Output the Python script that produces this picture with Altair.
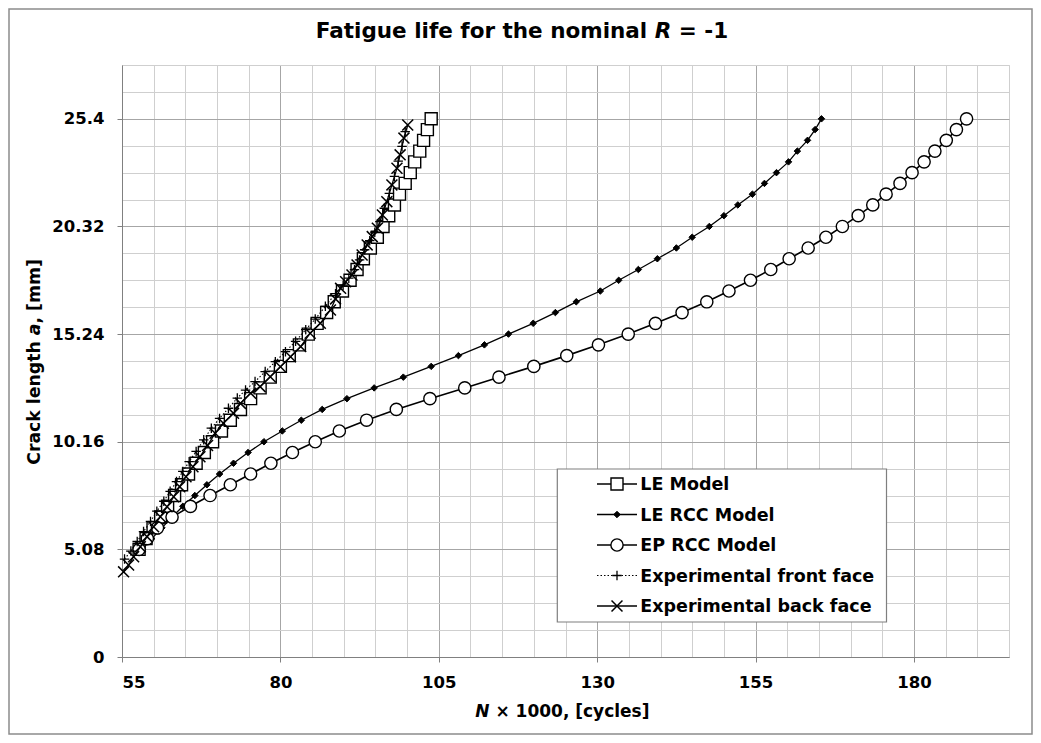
import altair as alt
import pandas as pd

series_names = ["LE Model", "LE RCC Model", "EP RCC Model",
                "Experimental front face", "Experimental back face"]

# crack length levels of the model curves [mm]
a_model = [5.08, 5.588, 6.096, 6.604, 7.112, 7.62, 8.128, 8.636, 9.144,
           9.652, 10.16, 10.668, 11.176, 11.684, 12.192, 12.7, 13.208, 13.716, 14.224,
           14.732, 15.24, 15.748, 16.256, 16.764, 17.272, 17.78, 18.288, 18.796, 19.304,
           19.812, 20.32, 20.828, 21.336, 21.844, 22.352, 22.86, 23.368, 23.876, 24.384,
           24.892, 25.4]

# N x 1000 [cycles] for each model
le_N = [57.7, 58.8, 59.9, 61.1, 62.2, 63.3, 64.4, 65.5, 66.7,
        68.0, 69.3, 70.7, 72.1, 73.7, 75.3, 76.8, 78.4, 80.0, 81.4,
        83.0, 84.4, 85.8, 87.3, 88.5, 89.8, 91.0, 92.1, 93.1, 94.2,
        95.3, 96.2, 97.1, 98.0, 98.8, 99.7, 100.5, 101.2, 102.0, 102.6,
        103.2, 103.8]
le_rcc_N = [58.2, 59.7, 61.3, 62.9, 64.6, 66.5, 68.4, 70.4, 72.6,
            74.9, 77.4, 80.3, 83.3, 86.6, 90.5, 94.8, 99.4, 103.8, 108.1,
            112.2, 116.0, 119.9, 123.4, 126.7, 130.5, 133.4, 136.5, 139.5, 142.5,
            145.0, 147.7, 150.0, 152.2, 154.5, 156.4, 158.3, 160.2, 161.6, 163.2,
            164.4, 165.4]
ep_rcc_N = [57.7, 59.0, 60.6, 62.9, 65.8, 68.9, 72.1, 75.3, 78.5,
            81.9, 85.5, 89.3, 93.6, 98.3, 103.6, 109.1, 114.5, 120.0, 125.2,
            130.2, 134.9, 139.2, 143.4, 147.3, 150.8, 154.2, 157.4, 160.3, 163.3,
            166.1, 168.7, 171.2, 173.5, 175.6, 177.8, 179.7, 181.6, 183.3, 185.1,
            186.7, 188.3]

front_N = [55.4, 56.4, 57.4, 58.4, 59.5, 60.5, 61.6, 62.6, 63.6, 64.6,
           65.6, 66.7, 67.9, 69.1, 70.4, 71.8, 73.2, 74.5, 76.0, 77.6,
           79.2, 80.8, 82.4, 84.0, 85.5, 87.1, 88.7, 89.9, 90.8, 91.7,
           92.5, 93.3, 94.1, 94.9, 95.7, 96.4, 97.2, 98.0, 98.6, 99.2, 99.7]
front_a = [4.62, 5.0, 5.45, 5.92, 6.40, 6.88, 7.35, 7.82, 8.28, 8.76,
           9.22, 9.70, 10.25, 10.80, 11.26, 11.74, 12.22, 12.60, 13.0, 13.47,
           13.94, 14.41, 14.90, 15.45, 15.95, 16.55, 17.15, 17.55, 17.88, 18.28,
           18.74, 19.22, 19.65, 20.05, 20.55, 21.18, 21.88, 22.68, 23.40, 24.10, 24.80]

back_N = [55.25, 56.04, 56.83, 57.89, 58.95, 59.99, 61.05, 62.11, 63.15, 64.1,
          65.1, 66.2, 67.3, 68.5, 69.7, 71.0, 72.6, 73.7, 75.3, 76.8,
          78.4, 80.0, 81.6, 83.2, 84.7, 86.3, 87.9, 88.7, 89.5, 90.3, 91.3,
          92.1, 92.9, 93.7, 94.5, 95.3, 96.1, 96.8, 97.6, 98.4, 98.9,
          99.5, 100.1]
back_a = [4.02, 4.34, 4.73, 5.20, 5.68, 6.15, 6.62, 7.09, 7.56, 8.04,
          8.51, 8.98, 9.45, 9.98, 10.56, 11.03, 11.50, 11.97, 12.45, 12.76,
          13.23, 13.70, 14.17, 14.65, 15.28, 15.75, 16.38, 16.90, 17.40, 17.71, 18.03,
          18.50, 18.97, 19.45, 19.84, 20.24, 20.86, 21.49, 22.28, 23.07, 23.70,
          24.49, 25.11]

x_ticks = [55, 60, 65, 70, 75, 80, 85, 90, 95, 100, 105, 110, 115, 120, 125, 130,
           135, 140, 145, 150, 155, 160, 165, 170, 175, 180, 185, 190, 195]
y_ticks = [0, 1.27, 2.54, 3.81, 5.08, 6.35, 7.62, 8.89, 10.16, 11.43, 12.7, 13.97,
           15.24, 16.51, 17.78, 19.05, 20.32, 21.59, 22.86, 24.13, 25.4, 26.67, 27.94]


def frame(name, Ns, As):
    return pd.DataFrame({"series": name, "N": Ns, "a": As, "order": list(range(len(Ns)))})


frames = {
    "LE Model": frame("LE Model", le_N, a_model),
    "LE RCC Model": frame("LE RCC Model", le_rcc_N, a_model),
    "EP RCC Model": frame("EP RCC Model", ep_rcc_N, a_model),
    "Experimental front face": frame("Experimental front face", front_N, front_a),
    "Experimental back face": frame("Experimental back face", back_N, back_a),
}

FONT = "DejaVu Sans"
x_major = "(datum.value - 55) % 25 == 0"
y_major = "abs(datum.value / 5.08 - round(datum.value / 5.08)) < 0.001"

x_axis = alt.Axis(
    values=x_ticks, title=None, labelOverlap=False,
    labelExpr=f"{x_major} ? datum.label : ''",
    grid=True,
    gridColor={"condition": {"test": x_major, "value": "#a6a6a6"}, "value": "#cfcfcf"},
    gridWidth=1,
    tickOpacity={"condition": {"test": x_major, "value": 1}, "value": 0},
    tickSize=5, tickColor="#808080", domainColor="#808080",
    labelFont=FONT, labelFontSize=16.5, labelFontWeight="bold", labelColor="black",
    labelPadding=12,
)
y_axis = alt.Axis(
    values=y_ticks, title=None, labelOverlap=False,
    labelExpr=f"{y_major} ? format(datum.value, '.2~f') : ''",
    grid=True,
    gridColor={"condition": {"test": y_major, "value": "#a6a6a6"}, "value": "#cfcfcf"},
    gridWidth=1,
    tickOpacity={"condition": {"test": y_major, "value": 1}, "value": 0},
    tickSize=5, tickColor="#808080", domainColor="#808080",
    labelFont=FONT, labelFontSize=16.5, labelFontWeight="bold", labelColor="black",
    labelPadding=13,
)
xs = alt.Scale(domain=[55, 195], nice=False, zero=False)
ys = alt.Scale(domain=[0, 27.94], nice=False, zero=False)
X = alt.X("N:Q", scale=xs, axis=x_axis)
Y = alt.Y("a:Q", scale=ys, axis=y_axis)

marker_styles = {
    "LE Model": dict(shape="square", size=144, filled=True, fill="white",
                     stroke="black", strokeWidth=1.4),
    "LE RCC Model": dict(shape="diamond", size=42, filled=True, fill="black",
                         stroke="black", strokeWidth=1),
    "EP RCC Model": dict(shape="circle", size=150, filled=True, fill="white",
                         stroke="black", strokeWidth=1.4),
    "Experimental front face": dict(shape="M-1,0H1M0,-1V1", size=90, filled=False,
                                    stroke="black", strokeWidth=1.3),
    "Experimental back face": dict(shape="M-1,-1L1,1M-1,1L1,-1", size=120, filled=False,
                                   stroke="black", strokeWidth=1.5),
}
line_styles = {
    "LE Model": dict(strokeWidth=1.3),
    "LE RCC Model": dict(strokeWidth=1.3),
    "EP RCC Model": dict(strokeWidth=1.6),
    "Experimental front face": dict(strokeWidth=1.1, strokeDash=[1.5, 2]),
    "Experimental back face": dict(strokeWidth=1.3),
}

layers = []
for name in series_names:
    d = frames[name]
    layers.append(
        alt.Chart(d).mark_line(color="black", **line_styles[name]).encode(
            x=X, y=Y, order=alt.Order("order:Q"))
    )
    layers.append(
        alt.Chart(d).mark_point(opacity=1, **marker_styles[name]).encode(x=X, y=Y)
    )

one = pd.DataFrame({"k": [0]})


def txt(text, x, y, size, angle=0, style="normal", align="left"):
    props = dict(text=text, font=FONT, fontSize=size, fontWeight="bold",
                 fontStyle=style, align=align, baseline="alphabetic", color="black")
    if angle:
        props["angle"] = angle
    return alt.Chart(one).mark_text(**props).encode(x=alt.value(x), y=alt.value(y))


# ---- legend box (layout in pixels, relative to the plot area) ----
LEG_X0, LEG_X1, LEG_Y0, LEG_Y1 = 435.3, 764.5, 404, 557
SYM_X0, SYM_X1, SYM_XC, TXT_X = 475, 515, 495, 518.3
ROW_Y = [419, 449.5, 480, 510.5, 541]
LEG_FONT = 17.5

layers.append(
    alt.Chart(one).mark_rect(fill="white", stroke="#7f7f7f", strokeWidth=1.2).encode(
        x=alt.value(LEG_X0), x2=alt.value(LEG_X1), y=alt.value(LEG_Y0), y2=alt.value(LEG_Y1))
)
for name, ry in zip(series_names, ROW_Y):
    ls = dict(line_styles[name])
    ls["strokeWidth"] = min(ls["strokeWidth"], 1.3)
    layers.append(
        alt.Chart(one).mark_rule(color="black", **ls).encode(
            x=alt.value(SYM_X0), x2=alt.value(SYM_X1), y=alt.value(ry))
    )
    layers.append(
        alt.Chart(one).mark_point(opacity=1, **marker_styles[name]).encode(
            x=alt.value(SYM_XC), y=alt.value(ry))
    )
    layers.append(txt(name, TXT_X, ry + 6.4, LEG_FONT))

# title: "Fatigue life for the nominal R = -1"
layers.append(txt("Fatigue life for the nominal", 525.2, -27.5, 21.5, align="right"))
layers.append(txt("R", 532.7, -27.5, 21.5, style="italic"))
layers.append(txt("= -1", 556.8, -27.5, 21.5))
# x title: "N x 1000, [cycles]"
layers.append(txt("N", 353.3, 652.3, 17, style="italic"))
layers.append(txt("\u00d7 1000, [cycles]", 373.4, 652.3, 17))
# y title: "Crack length a, [mm]"
layers.append(txt("Crack length", -81.7, 399.8, 17.3, angle=270))
layers.append(txt("a", -81.7, 270.2, 17.3, angle=270, style="italic"))
layers.append(txt(", [mm]", -81.7, 258.5, 17.3, angle=270))

# outer frame
layers.append(
    alt.Chart(one).mark_rect(fill=None, stroke="#8c8c8c", strokeWidth=1.5).encode(
        x=alt.value(-113), x2=alt.value(887 + 23), y=alt.value(-56), y2=alt.value(592 + 77))
)

chart = alt.layer(*layers).properties(
    width=887, height=592,
    autosize=alt.AutoSizeParams(type="none"),
    padding={"left": 114, "top": 57, "right": 24, "bottom": 78},
    background="white",
).configure_view(stroke=None).configure(font=FONT)

chart.save("out.html", embed_options={"renderer": "svg", "actions": False})
